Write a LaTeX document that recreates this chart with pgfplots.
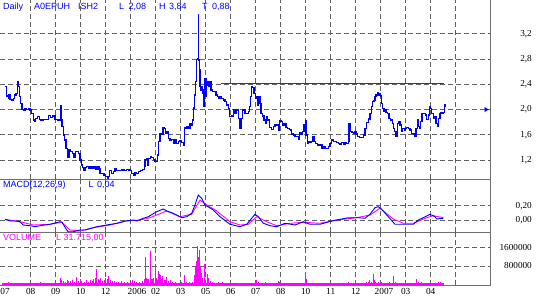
\documentclass[border=0pt]{standalone}
\usepackage{pgfplots}
\pgfplotsset{compat=1.18}
\usepackage{fontspec}
\setmainfont{Liberation Serif}
\newfontfamily\sansf{Liberation Sans}
\definecolor{gridgray}{RGB}{96,96,96}
\definecolor{framegray}{RGB}{110,110,110}
\definecolor{pblue}{RGB}{0,0,255}
\definecolor{pmag}{RGB}{255,0,255}
\definecolor{resred}{RGB}{210,0,0}
\pgfplotsset{
  panel/.style={
    scale only axis, width=490.7pt, xmin=0, xmax=490.7,
    anchor=south west,
    axis x line*=bottom, axis y line*=right,
    axis line style={framegray, line width=1pt},
    xtick={30.7,55.7,80.7,105.7,130.7,155.7,180.7,205.7,230.7,255.7,280.7,305.7,330.7,355.7,380.7,405.7,430.7,455.7},
    xticklabels={},
    scaled x ticks=false, scaled y ticks=false,
    grid=major,
    major grid style={gridgray, line width=0.9pt, dash pattern=on 5pt off 3pt},
    major tick length=0pt,
    yticklabel style={anchor=east, inner sep=0pt, xshift=41.3pt, font=\fontsize{9.2}{10}\selectfont},
    /pgf/number format/assume math mode=true,
  }
}
\begin{document}
\begin{tikzpicture}
\useasboundingbox (0,0) rectangle (536pt,303pt);
% ---------------- price panel
\begin{axis}[panel, at={(0pt,123.7pt)}, height=179.3pt, ymin=0.895, ymax=3.734,
  ytick={1.2,1.6,2.0,2.4,2.8,3.2}, yticklabels={{1,2},{1,6},{2,0},{2,4},{2,8},{3,2}}]
\addplot[resred, line width=1pt] coordinates {(221,2.415)(444,2.415)};
\addplot[pblue, line width=1.2pt, const plot] coordinates {
(5.3,2.361)(6.7,2.214)(8.3,2.177)(9,2.241)(10,2.162)(11.7,2.150)(13.3,2.177)(14.7,2.230)(16,2.257)
(17.3,2.415)(18,2.440)(18.3,2.361)(19.3,2.203)(20.7,2.098)(22,2.003)(23.3,1.992)(25,2.019)(26.7,2.003)
(28.3,2.019)(30,1.992)(31.7,1.940)(33.3,1.834)(34.3,1.807)(35.7,1.861)(37.3,1.886)(39.3,1.845)(40.7,1.834)
(43.3,1.845)(46.7,1.845)(48.7,1.902)(50.7,1.876)(52.7,1.897)(55,1.845)(57.3,1.834)(59.3,1.834)(60.3,2.067)
(61,1.834)(62,1.728)(63.3,1.596)(64.3,1.517)(66,1.386)(67.7,1.237)(69,1.359)(70.7,1.332)(72.3,1.306)
(74,1.243)(75.3,1.332)(77.3,1.332)(78.7,1.306)(80,1.200)(81.3,1.121)(82.7,1.085)(84,1.042)(85.3,1.085)
(86.7,1.094)(88.3,1.069)(90,1.094)(92,1.069)(94,1.094)(96,1.053)(97.3,1.094)(99,1.058)(100,0.990)
(102.3,0.990)(104,0.963)(105.7,0.936)(107.3,0.911)(108.3,0.936)(109.7,1.031)(111.7,0.990)(113.3,1.015)
(115,1.069)(116.7,1.031)(119,1.031)(121.7,1.042)(124.3,1.031)(126.7,1.053)(128.3,1.042)(130.3,1.031)
(131.7,0.990)(133.3,0.963)(135,1.000)(136.7,0.990)(138.3,1.015)(140.7,1.031)(142.7,1.053)(144.3,1.105)
(145,1.211)(146.7,1.221)(147.7,1.121)(148.7,1.227)(150.3,1.253)(151.7,1.237)(153.3,1.211)(155,1.173)
(156.7,1.173)(157.7,1.280)(158.3,1.490)(160,1.623)(161.7,1.612)(163,1.718)(164.3,1.702)(165.7,1.623)
(167,1.648)(168.3,1.544)(170,1.517)(171.7,1.528)(173.3,1.465)(175,1.517)(176.7,1.465)(178.3,1.490)
(180,1.506)(181.7,1.474)(183.3,1.438)(184.3,1.707)(185.5,1.699)(187,1.723)(188.3,1.707)(190,1.781)
(191.7,1.747)(192.7,1.834)(193.5,2.024)(194.5,2.230)(195.7,2.440)(196.7,2.795)(197.7,2.811)(198.3,3.496)
(198.7,2.784)(199.3,2.625)(200,2.361)(201,2.309)(202,2.361)(202.7,2.257)(203.3,2.044)(204,2.309)
(205,2.494)(206,2.203)(206.7,2.388)(207.7,2.440)(208.7,2.361)(210,2.440)(211,2.309)(212.7,2.282)
(214.3,2.282)(216,2.230)(217.3,2.203)(219,2.177)(220,2.203)(221.7,2.177)(223.3,2.150)(225,2.124)
(226.7,2.071)(228.3,2.019)(229.3,1.886)(231.7,1.897)(233.3,1.992)(235,1.940)(236.7,1.992)(238.3,1.861)
(240,1.702)(241,1.861)(242.7,1.992)(245,1.940)(246.7,1.940)(248.3,1.965)(249.3,2.044)(250.7,2.203)
(251.7,2.361)(252.7,2.352)(254,2.257)(255.3,2.177)(256.7,2.203)(257.7,2.071)(258.7,2.203)(260,2.098)
(261,1.940)(262.7,1.897)(264,1.834)(265.7,1.781)(266.7,1.886)(267.7,1.834)(269.3,1.718)(271.7,1.686)
(273.3,1.728)(275,1.766)(276.7,1.755)(278.3,1.664)(279.3,1.823)(281,1.807)(282.7,1.755)(284,1.770)
(286,1.718)(287.7,1.702)(289.3,1.686)(290.7,1.675)(291.7,1.612)(293.3,1.596)(295,1.569)(296.7,1.569)
(298.3,1.528)(299.3,1.633)(301,1.612)(302.7,1.648)(304,1.755)(305.3,1.823)(306,1.596)(307.3,1.465)
(308.3,1.490)(310,1.474)(311.7,1.490)(312.7,1.569)(314,1.490)(315.7,1.465)(317.3,1.438)(319.3,1.449)
(320.7,1.438)(322,1.379)(323.3,1.411)(325,1.386)(326.7,1.386)(328.3,1.411)(330,1.465)(331.7,1.517)
(333.3,1.490)(335,1.490)(336.7,1.474)(338.3,1.465)(340,1.454)(341.7,1.474)(343.3,1.454)(345,1.474)
(346.7,1.465)(348.3,1.490)(349,1.781)(350.3,1.648)(352,1.633)(353.3,1.623)(355,1.648)(356,1.612)
(357.3,1.569)(359.3,1.553)(361.7,1.553)(363.3,1.596)(365,1.702)(366.7,1.791)(368.3,1.850)(370,1.940)
(371.7,2.044)(372.7,2.124)(374,2.139)(375,2.203)(376,2.230)(377.3,2.266)(378.3,2.230)(379.3,2.257)
(380.7,2.214)(381.7,2.098)(382.7,2.019)(384,1.965)(385,2.003)(386,1.949)(387.3,1.940)(389,1.861)
(390.7,1.834)(392.3,1.781)(393.3,1.702)(394.7,1.648)(396,1.569)(397.3,1.781)(399,1.807)(400,1.755)
(401.3,1.648)(402.7,1.702)(404.3,1.675)(405.7,1.702)(406.7,1.718)(408.3,1.702)(410,1.675)(411.7,1.623)
(413.3,1.612)(415,1.569)(416,1.702)(417.3,1.845)(418.3,1.728)(419.3,1.702)(420.7,1.807)(422,1.940)
(424,1.940)(425.3,1.913)(426.7,1.845)(428.3,1.913)(429.3,2.044)(430.7,2.019)(431.7,1.940)(433.3,1.861)
(435,1.886)(436,1.781)(437.3,1.728)(438.7,1.861)(440,1.940)(441,1.949)(442,1.940)(443.3,1.949)
(444.3,2.055)(445,2.087)};
\addplot[pblue, only marks, mark=triangle*, mark size=2.3pt, mark options={rotate=-90}] coordinates {(486,2.0)};
\end{axis}
% ---------------- MACD panel
\begin{axis}[panel, at={(0pt,70.7pt)}, height=53pt, ymin=-0.172, ymax=0.569,
  ytick={0,0.2}, yticklabels={{0,00},{0,20}}]
\addplot[pmag, line width=0.9pt] coordinates {
(5,0.010)(20,-0.024)(33.3,-0.070)(50,-0.060)(61.7,-0.032)(70,-0.140)(80,-0.154)(93.3,-0.108)
(110,-0.070)(126.7,-0.014)(140,0.0)(150,0.032)(166.7,0.126)(180,0.046)(191.7,0.080)(200,0.280)
(206.7,0.210)(216.7,0.126)(230,-0.024)(240,-0.070)(248.3,-0.060)(256.7,0.046)(266.7,-0.024)
(276.7,-0.080)(290,-0.046)(303.3,-0.032)(320,-0.046)(336.7,0.0)(356.7,0.032)(370,0.070)
(380,0.164)(393.3,0.014)(403.3,-0.046)(413.3,-0.046)(426.7,0.032)(433.3,0.060)(443.3,0.032)};
\addplot[pblue, line width=0.9pt] coordinates {
(5,0.010)(10,-0.014)(15,-0.014)(20,-0.024)(23.3,-0.070)(30,-0.080)(35,-0.094)(40,-0.080)(50,-0.060)
(60,-0.024)(61.7,-0.024)(66.7,-0.140)(68.3,-0.164)(73.3,-0.164)(80,-0.140)(85,-0.140)(96.7,-0.094)
(106.7,-0.070)(116.7,-0.046)(126.7,-0.010)(133.3,0.0)(136.7,-0.014)(143.3,0.024)(148.3,0.046)
(156.7,0.116)(163.3,0.154)(166.7,0.126)(173.3,0.094)(181.7,0.032)(186.7,0.046)(191.7,0.094)
(195,0.210)(198.3,0.350)(201.7,0.303)(205,0.210)(213.3,0.140)(220,0.046)(230,-0.060)(240,-0.094)
(246.7,-0.060)(251.7,0.024)(255,0.080)(258.3,0.046)(263.3,-0.046)(268.3,-0.070)(270,-0.080)
(276.7,-0.094)(285,-0.046)(295,-0.070)(303.3,-0.024)(310,-0.060)(320,-0.060)(331.7,-0.014)
(348.3,0.032)(358.3,0.032)(365,0.024)(370,0.080)(375,0.172)(378.3,0.186)(381.7,0.150)(388.3,0.046)
(395,-0.060)(401.7,-0.060)(413.3,-0.060)(418.3,0.0)(423.3,0.032)(430,0.080)(435,0.046)(436.7,0.014)
(443.3,0.024)};
\end{axis}
% ---------------- volume panel
\begin{axis}[panel, at={(0pt,18pt)}, height=52.7pt, ymin=-20000, ymax=2250000,
  ytick={800000,1600000}, yticklabels={800000,1600000},
  extra x ticks={5,30.7,55.7,80.7,105.7,137,155.7,180.7,205.7,230.7,255.7,280.7,305.7,330.7,355.7,384,405.7,430.7},
  extra x tick labels={07,08,09,10,12,2006,02,03,05,06,07,08,10,11,12,2007,03,04},
  extra x tick style={grid=none, xticklabel style={anchor=north, inner sep=0pt, yshift=-3.5pt, font=\fontsize{9.3}{10}\selectfont}}]
\addplot[fill=pmag, draw=none] coordinates {(2,-20000)(2,50000)(444,50000)(444,-20000)};
\addplot[pmag, ycomb, line width=1pt] coordinates {
(8,90000)(15,70000)(28,80000)(40,90000)(47,70000)
(60.7,270000)(61.7,180000)(63,140000)(65,110000)(67,200000)(68.3,140000)(70,150000)(72,180000)
(74,110000)(76.7,320000)(78,150000)(80,250000)(81.3,160000)(84,130000)(86,180000)(88,120000)
(90,200000)(92,150000)(93.3,260000)(95,300000)(96.7,660000)(98,250000)(99.3,180000)(100.7,300000)
(102,160000)(104,200000)(105.3,300000)(107,260000)(108.3,350000)(110,200000)(112,140000)(114,160000)
(116,120000)(118,110000)(121,150000)(124,100000)(127,90000)(130,120000)(132.3,200000)(134,150000)
(136,100000)(139,110000)(142,150000)(144,250000)(145,1170000)(146.3,300000)(147.3,250000)
(148.7,250000)(150,1440000)(151.3,250000)(152.3,220000)(153.3,300000)(155,860000)(156.3,300000)
(157.3,200000)(158.3,590000)(159.3,450000)(160.7,420000)(161.7,250000)(162.7,350000)(164,200000)
(165,180000)(166.7,330000)(168,150000)(170,180000)(172,100000)(175,90000)(178,80000)(181,100000)
(184.3,410000)(186,100000)(189,90000)(192,120000)(194,420000)(195,350000)(195.7,750000)
(196.7,1020000)(197.7,1650000)(198.7,1170000)(199.3,1470000)(200,750000)(201,400000)(201.7,500000)
(202.3,300000)(204,900000)(205,200000)(207.3,450000)(208.3,300000)(210,150000)(212,120000)
(215,80000)(218,100000)(222,90000)(230,80000)(240,70000)(250,80000)(256.7,180000)(258,120000)
(262,80000)(265,90000)(268,80000)(278.3,160000)(279.5,100000)(305,450000)(306,250000)(320,70000)
(348.3,130000)(366.7,110000)(368,90000)(369.3,190000)(371,120000)(373.3,450000)(374.3,200000)
(375.5,100000)(378,110000)(381.7,100000)(389,100000)(393.3,360000)(395.5,130000)(416.7,250000)
(418,100000)(421.7,90000)(438.3,100000)(440,90000)};
\end{axis}
% ---------------- panel captions
\begin{scope}[every node/.style={anchor=base west, inner sep=0pt, font=\sansf\fontsize{9}{10}\selectfont}]
\node[text=pblue] at (3pt,293.7pt) {Daily};
\node[text=pblue] at (34pt,293.7pt) {A0EPUH};
\node[text=pblue] at (78pt,293.7pt) {ISH2};
\node[text=pblue] at (119pt,293.7pt) {L};
\node[text=pblue] at (128.5pt,293.7pt) {2,08};
\node[text=pblue] at (159pt,293.7pt) {H};
\node[text=pblue] at (169pt,293.7pt) {3,84};
\node[text=pblue] at (202pt,293.7pt) {T};
\node[text=pblue] at (212pt,293.7pt) {0,88};
\node[text=pblue] at (3pt,115pt) {MACD(12,26,9)};
\node[text=pblue] at (88.3pt,115pt) {L};
\node[text=pblue] at (97pt,115pt) {0,04};
\node[text=pmag] at (3pt,62.3pt) {VOLUME};
\node[text=pmag] at (56pt,62.3pt) {L};
\node[text=pmag] at (63.3pt,62.3pt) {31.715,00};
\end{scope}
\end{tikzpicture}
\end{document}
